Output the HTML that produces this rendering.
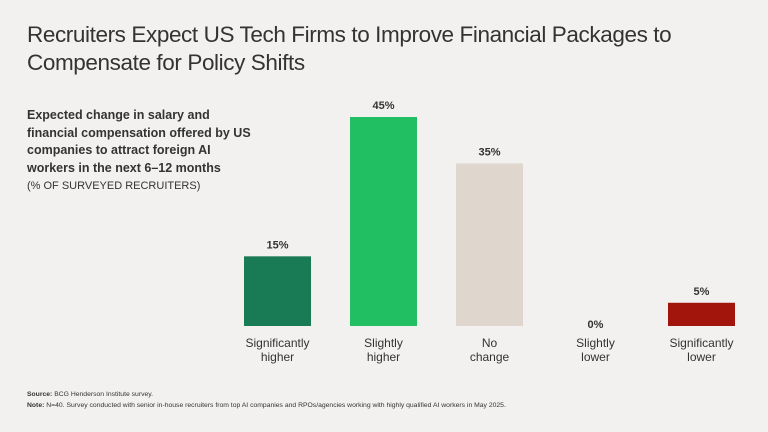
<!DOCTYPE html>
<html><head><meta charset="utf-8"><style>
body{margin:0;width:768px;height:432px;background:#f2f1ef;font-family:"Liberation Sans",sans-serif;color:#222;position:relative;overflow:hidden}
.t{position:absolute}
</style></head><body>
<div class="t" style="left:27px;top:21px;font-size:22.5px;line-height:28px;color:#333;letter-spacing:-0.4px">Recruiters Expect US Tech Firms to Improve Financial Packages to Compensate for Policy Shifts</div>
<div class="t" style="left:27px;top:107px;width:232px;font-size:12.5px;line-height:17.5px;font-weight:bold;color:#333">Expected change in salary and financial compensation offered by US companies to attract foreign AI workers in the next 6–12 months</div>
<div class="t" style="left:27px;top:180px;font-size:11px;color:#333">(% OF SURVEYED RECRUITERS)</div>
<svg id="chart" class="t" style="left:0;top:0" width="768" height="432"></svg>
<div class="t" style="left:27px;top:389px;font-size:6.8px;line-height:11px;color:#333"><b>Source:</b> BCG Henderson Institute survey.<br><b>Note:</b> N=40. Survey conducted with senior in-house recruiters from top AI companies and RPOs/agencies working with highly qualified AI workers in May 2025.</div>
<script>
const categories=[["Significantly","higher"],["Slightly","higher"],["No","change"],["Slightly","lower"],["Significantly","lower"]];
const values=[15,45,35,0,5];
const labels=["15%","45%","35%","0%","5%"];
const colors=["#197a56","#21bf61","#dfd7cd","#29ba74","#a1150c"];
const svg=document.getElementById('chart');
const NS="http://www.w3.org/2000/svg";
const base=326,scale=209/45,x0=244,step=106,bw=67;
const y=v=>base-v*scale;
values.forEach((v,i)=>{
  const x=x0+i*step;
  const r=document.createElementNS(NS,'rect');
  r.setAttribute('x',x);r.setAttribute('y',y(v));r.setAttribute('width',bw);r.setAttribute('height',base-y(v));r.setAttribute('fill',colors[i]);
  
  
  svg.appendChild(r);
  const t=document.createElementNS(NS,'text');
  t.setAttribute('x',x+bw/2);t.setAttribute('y',y(v)-(v===0?-2:8));t.setAttribute('text-anchor','middle');
  t.setAttribute('font-size','11');t.setAttribute('font-weight','bold');t.setAttribute('fill','#333');
  t.textContent=labels[i];
  
  
  svg.appendChild(t);
  categories[i].forEach((s,j)=>{
    const c=document.createElementNS(NS,'text');
    c.setAttribute('x',x+bw/2);c.setAttribute('y',347+j*14);c.setAttribute('text-anchor','middle');
    c.setAttribute('font-size','12');c.setAttribute('fill','#333');
    c.textContent=s;
    
    
    svg.appendChild(c);
  });
});
</script>
</body></html>
